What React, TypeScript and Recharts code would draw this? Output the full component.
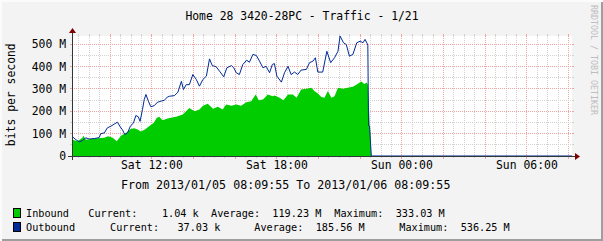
import { ComposedChart, Area, Line, XAxis, YAxis, CartesianGrid, ReferenceLine } from 'recharts'

// time = minutes since Sat 2013/01/05 08:09:55, values in Mbit/s
const OUT_T = [0, 11, 21, 30, 40, 50, 64, 78, 83, 93, 102, 112, 122, 131, 139, 145, 152, 160, 168, 177, 184, 191, 196, 203, 208, 213, 220, 227, 237, 246, 256, 266, 275, 281, 295, 305, 315, 321, 329, 338, 348, 358, 367, 377, 387, 396, 404, 415, 425, 437, 446, 459, 466, 473, 482, 492, 503, 511, 521, 531, 540, 550, 559, 569, 577, 583, 590, 603, 612, 622, 631, 641, 650, 660, 675, 684, 694, 701, 708, 722, 734, 745, 756, 766, 772, 782, 790, 799, 809, 820, 830, 838, 844, 850, 852, 854, 857, 862, 1440]
const OUT_V = [88, 73, 63, 69, 81, 76, 78, 82, 100, 103, 126, 133, 143, 151, 130, 118, 96, 103, 133, 148, 181, 175, 155, 208, 252, 275, 245, 220, 225, 240, 245, 249, 264, 267, 270, 285, 334, 297, 319, 319, 364, 342, 312, 342, 357, 434, 404, 399, 379, 354, 394, 404, 394, 372, 364, 409, 428, 419, 454, 449, 424, 394, 401, 372, 409, 413, 357, 330, 372, 401, 364, 375, 364, 384, 387, 417, 424, 439, 375, 375, 468, 417, 439, 468, 536, 506, 498, 446, 454, 506, 513, 506, 521, 503, 494, 135, 133, 0.04, 0.04]

const IN_T = [0, 2, 16, 30, 33, 40, 54, 73, 93, 104, 117, 129, 141, 155, 169, 179, 189, 198, 210, 222, 235, 244, 251, 261, 273, 281, 300, 319, 338, 353, 367, 377, 391, 406, 420, 434, 444, 459, 473, 487, 502, 516, 529, 538, 550, 564, 578, 583, 598, 609, 622, 636, 647, 660, 675, 689, 698, 708, 718, 727, 737, 747, 756, 766, 780, 794, 809, 820, 833, 842, 849, 852, 862, 1440]
const IN_V = [75, 73, 66, 81, 91, 73, 76, 79, 81, 88, 81, 66, 91, 103, 121, 124, 118, 110, 118, 133, 148, 170, 175, 160, 166, 170, 175, 185, 215, 200, 208, 225, 234, 211, 220, 208, 230, 225, 230, 225, 240, 245, 275, 249, 252, 275, 267, 270, 260, 249, 275, 275, 260, 297, 300, 305, 290, 279, 264, 260, 290, 260, 267, 305, 300, 305, 309, 319, 333, 322, 328, 318, 0.001, 0.001]

const SPAN = 1440
const Y_MAX = 536.25
const TICK_T = [230.08, 590.08, 950.08, 1310.08]
const TICK_LABELS = ['Sat 12:00', 'Sat 18:00', 'Sun 00:00', 'Sun 06:00']
const Y_TICKS = [0, 100, 200, 300, 400, 500]
const Y_MINOR = [50, 150, 250, 350, 450]

const SERIES = [
  { name: 'Inbound', color: '#00CC00', stats: ['Current:    1.04 k', 'Average:  119.23 M', 'Maximum:  333.03 M'] },
  { name: 'Outbound', color: '#002A97', stats: ['Current:   37.03 k', 'Average:  185.56 M', 'Maximum:  536.25 M'] },
]

const inData = IN_T.map((t, i) => ({ t, v: IN_V[i] }))
const outData = OUT_T.map((t, i) => ({ t, v: OUT_V[i] }))

// 30 min minor grid, 2 h major grid (first full half hour is 08:30)
const gridT: { t: number; major: boolean }[] = []
for (let m = 20.0833; m < SPAN; m += 30) {
  const k = Math.round((m - 110.0833) / 30)
  gridT.push({ t: m, major: k % 4 === 0 })
}

const MONO = 'DejaVu Sans Mono'
const GRID = '#D2D2D2'
const MGRID = '#EFA3A3'
const AXIS = '#2F3636'
const ARROW = '#7F0000'

const gridShape = (color: string, major: boolean) => (p: any) => {
  const { x1, y1, x2, y2 } = p
  if (Math.abs(x1 - x2) < 0.5) {
    const top = Math.min(y1, y2)
    const bot = Math.max(y1, y2)
    return (
      <g stroke={color} strokeWidth={1} shapeRendering="crispEdges">
        <line x1={x1} x2={x1} y1={top - 2} y2={top} />
        <line x1={x1} x2={x1} y1={top} y2={bot} strokeDasharray="1 1" />
        <line x1={x1} x2={x1} y1={bot} y2={bot + (major ? 3 : 2)} />
      </g>
    )
  }
  const l = Math.min(x1, x2)
  const r = Math.max(x1, x2)
  return (
    <g stroke={color} strokeWidth={1} shapeRendering="crispEdges">
      <line x1={l - 2} x2={l} y1={y1} y2={y1} />
      <line x1={l} x2={r} y1={y1} y2={y1} strokeDasharray="1 1" />
      <line x1={r} x2={r + 2} y1={y1} y2={y1} />
    </g>
  )
}

const xAxisShape = (p: any) => {
  const l = Math.min(p.x1, p.x2)
  const r = Math.max(p.x1, p.x2)
  const y = p.y1
  return (
    <g>
      <line x1={l - 4} x2={r + 4} y1={y} y2={y} stroke={AXIS} strokeWidth={1} shapeRendering="crispEdges" />
      <polygon points={`${r + 3},${y - 3} ${r + 3},${y + 4} ${r + 8},${y + 0.5}`} fill={ARROW} />
    </g>
  )
}

const yAxisShape = (p: any) => {
  const top = Math.min(p.y1, p.y2)
  const bot = Math.max(p.y1, p.y2)
  const x = p.x1
  return (
    <g>
      <line x1={x} x2={x} y1={bot + 4} y2={top - 4} stroke={AXIS} strokeWidth={1} shapeRendering="crispEdges" />
      <polygon points={`${x - 3},${top - 3} ${x + 4},${top - 3} ${x + 0.5},${top - 8}`} fill={ARROW} />
    </g>
  )
}

function TrafficGraph() {
  return (
    <ComposedChart width={603} height={241} margin={{ top: 36, right: 31, bottom: 55, left: 12 }}>
      <CartesianGrid horizontal={false} vertical={false} fill="#FFFFFF" stroke="none" />
      <XAxis
        type="number"
        dataKey="t"
        domain={[0, SPAN]}
        ticks={TICK_T}
        interval={0}
        height={30}
        axisLine={false}
        tickLine={false}
        tickSize={0}
        tickMargin={5}
        tickFormatter={(v: number) => TICK_LABELS[TICK_T.indexOf(v)] ?? ''}
        tick={{ fontFamily: MONO, fontSize: 11.4, fill: '#000' }}
      />
      <YAxis
        type="number"
        domain={[0, Y_MAX]}
        ticks={Y_TICKS}
        interval={0}
        width={60}
        axisLine={false}
        tickLine={false}
        tickSize={0}
        tickMargin={6}
        tickFormatter={(v: number) => (v === 0 ? '0' : `${v} M`)}
        tick={{ fontFamily: MONO, fontSize: 11.4, fill: '#000' }}
      />
      {gridT.map(g => (
        <ReferenceLine key={`x${g.t}`} x={g.t} zIndex={50} shape={gridShape(g.major ? MGRID : GRID, g.major)} />
      ))}
      {Y_MINOR.map(v => (
        <ReferenceLine key={`m${v}`} y={v} zIndex={50} shape={gridShape(GRID, false)} />
      ))}
      {Y_TICKS.slice(1).map(v => (
        <ReferenceLine key={`M${v}`} y={v} zIndex={50} shape={gridShape(MGRID, true)} />
      ))}
      <Area
        data={inData}
        dataKey="v"
        type="linear"
        fill={SERIES[0].color}
        fillOpacity={1}
        stroke="none"
        dot={false}
        activeDot={false}
        isAnimationActive={false}
      />
      <Line
        data={outData}
        dataKey="v"
        type="linear"
        stroke={SERIES[1].color}
        strokeWidth={1}
        dot={false}
        activeDot={false}
        isAnimationActive={false}
      />
      <ReferenceLine y={0} zIndex={700} shape={xAxisShape} />
      <ReferenceLine x={0} zIndex={700} shape={yAxisShape} />
    </ComposedChart>
  )
}

export default function App() {
  const statX = [[88.3, 211, 334.3], [110, 254.3, 399.3]]
  return (
    <div
      style={{
        position: 'absolute',
        left: 0,
        top: 0,
        width: 603,
        height: 241,
        background: '#F3F3F3',
        boxShadow: 'inset 2px 2px 0 #FBFBFB, inset -2px -2px 0 #9E9E9E',
      }}
    >
      <TrafficGraph />
      <svg width={603} height={241} style={{ position: 'absolute', left: 0, top: 0, pointerEvents: 'none' }}>
        <text x={302} y={20} textAnchor="middle" fontFamily={MONO} fontSize={11.4} fill="#000">
          Home 28 3420-28PC - Traffic - 1/21
        </text>
        <text
          transform="translate(14.5 94.7) rotate(-90)"
          textAnchor="middle"
          fontFamily={MONO}
          fontSize={11.4}
          fill="#000"
        >
          bits per second
        </text>
        <text transform="translate(590.7 5) rotate(90)" fontFamily={MONO} fontSize={8.3} fill="#BDBDBD">
          RRDTOOL / TOBI OETIKER
        </text>
        <text x={121} y={188.5} fontFamily={MONO} fontSize={11.65} fill="#000" style={{ whiteSpace: 'pre' }}>
          From 2013/01/05 08:09:55 To 2013/01/06 08:09:55
        </text>
        {SERIES.map((s, i) => {
          const base = 217 + i * 14
          return (
            <g key={s.name}>
              <rect x={13.5} y={base - 8.5} width={7} height={9} fill={s.color} stroke="#000" strokeWidth={1} />
              <text x={26} y={base} fontFamily={MONO} fontSize={10.2} fill="#000">
                {s.name}
              </text>
              {s.stats.map((txt, j) => (
                <text key={j} x={statX[i][j]} y={base} fontFamily={MONO} fontSize={10.2} fill="#000" style={{ whiteSpace: 'pre' }}>
                  {txt}
                </text>
              ))}
            </g>
          )
        })}
      </svg>
    </div>
  )
}
